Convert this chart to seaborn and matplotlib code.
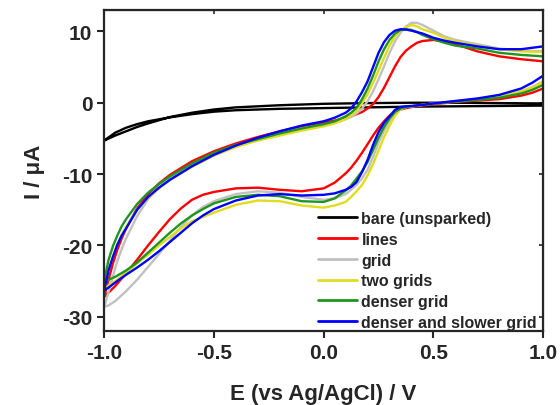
import numpy as np
import pandas as pd
import matplotlib
matplotlib.use("Agg")
import matplotlib.pyplot as plt
import seaborn as sns

# ---------------- data ----------------
series_names = ["bare (unsparked)", "lines", "grid", "two grids",
                "denser grid", "denser and slower grid"]
series_colors = ["#000000", "#ff0000", "#c0c0c0", "#e0dc20", "#1f951f", "#0000ff"]

# black (bare) curve
bare_x = [-1.0, -0.95, -0.9, -0.85, -0.8, -0.7, -0.6, -0.5, -0.4, -0.2, 0.0, 0.2, 0.4, 0.6, 0.8, 1.0]
bare_fwd = [-5.3, -4.6, -4.0, -3.4, -2.9, -2.0, -1.4, -0.95, -0.65, -0.35, -0.15, -0.05, 0.0, 0.0, -0.05, -0.1]
bare_rev = [-5.3, -4.2, -3.5, -3.0, -2.6, -2.05, -1.6, -1.25, -1.05, -0.85, -0.75, -0.65, -0.55, -0.5, -0.45, -0.4]

# forward (anodic) scan potentials, -1.0 -> 1.0 V
fwd_x = [-1.0, -0.99, -0.98, -0.96, -0.94, -0.92, -0.9, -0.85, -0.8, -0.75, -0.7, -0.6, -0.5, -0.4,
         -0.3, -0.2, -0.1, 0.0, 0.05, 0.1, 0.125, 0.15, 0.175, 0.2, 0.225, 0.25, 0.275, 0.3, 0.325,
         0.35, 0.375, 0.4, 0.425, 0.45, 0.5, 0.55, 0.6, 0.7, 0.8, 0.9, 1.0]
lines_fwd = [-27.2, -26.0, -24.8, -22.5, -20.6, -19.0, -17.6, -14.8, -12.8, -11.3, -10.1, -8.2, -6.8, -5.7,
             -4.8, -4.0, -3.3, -2.8, -2.5, -2.1, -1.9, -1.6, -1.3, -0.8, -0.2, 0.8, 2.1, 3.6, 5.1,
             6.4, 7.3, 7.9, 8.4, 8.65, 8.8, 8.6, 8.2, 7.2, 6.5, 6.1, 5.8]
grid_fwd = [-28.6, -27.6, -26.5, -24.3, -22.2, -20.5, -19.0, -15.9, -13.5, -11.9, -10.6, -8.8, -7.2, -6.0,
            -5.1, -4.3, -3.6, -3.1, -2.8, -2.3, -2.0, -1.5, -0.8, 0.2, 1.6, 3.3, 5.1, 7.0, 8.6,
            9.8, 10.7, 11.2, 11.2, 10.9, 10.1, 9.3, 8.8, 8.2, 7.6, 7.3, 7.2]
two_fwd = [-26.0, -24.7, -23.4, -21.5, -19.8, -18.5, -17.4, -15.0, -13.3, -12.0, -10.8, -9.0, -7.4, -6.2,
           -5.3, -4.6, -3.9, -3.3, -2.9, -2.3, -1.8, -1.1, -0.1, 1.2, 2.8, 4.5, 6.3, 8.0, 9.3,
           10.1, 10.6, 10.9, 10.7, 10.3, 9.8, 9.1, 8.6, 8.0, 7.5, 7.2, 7.1]
denser_fwd = [-25.0, -23.5, -22.0, -20.1, -18.6, -17.3, -16.3, -14.2, -12.6, -11.4, -10.3, -8.5, -7.0, -5.9,
              -5.1, -4.3, -3.6, -3.0, -2.6, -1.9, -1.4, -0.7, 0.5, 2.0, 3.8, 5.8, 7.5, 8.8, 9.7,
              10.2, 10.3, 10.2, 9.9, 9.5, 8.9, 8.4, 8.0, 7.6, 7.0, 6.7, 6.5]
slower_fwd = [-26.3, -24.9, -23.5, -21.6, -19.9, -18.6, -17.6, -15.0, -13.2, -11.9, -10.8, -8.9, -7.3, -6.0,
              -4.9, -4.0, -3.2, -2.6, -2.1, -1.4, -0.8, 0.2, 1.5, 3.0, 5.0, 7.0, 8.5, 9.5, 10.1,
              10.3, 10.25, 10.1, 9.9, 9.7, 9.1, 8.7, 8.4, 7.9, 7.5, 7.5, 7.9]

# reverse (cathodic) scan potentials, 1.0 -> -1.0 V
rev_x = [1.0, 0.95, 0.9, 0.8, 0.7, 0.6, 0.5, 0.45, 0.4, 0.375, 0.35, 0.325, 0.3, 0.275, 0.25, 0.225,
         0.2, 0.175, 0.15, 0.125, 0.1, 0.05, 0.0, -0.1, -0.2, -0.3, -0.4, -0.5, -0.55, -0.6, -0.65,
         -0.7, -0.75, -0.8, -0.85, -0.9, -0.95, -0.98, -1.0]
lines_rev = [2.0, 1.4, 1.0, 0.5, 0.3, 0.1, -0.2, -0.4, -0.6, -0.75, -0.95, -1.3, -1.8, -2.6, -3.5, -4.6,
             -5.8, -7.0, -8.1, -9.1, -9.9, -11.2, -12.0, -12.4, -12.2, -11.9, -12.0, -12.5, -12.9, -13.6, -14.8,
             -16.3, -18.1, -20.0, -22.0, -23.9, -25.7, -26.6, -27.2]
grid_rev = [3.0, 2.2, 1.6, 0.9, 0.5, 0.2, -0.1, -0.3, -0.5, -0.6, -0.9, -1.5, -2.6, -3.9, -5.6, -7.6,
            -9.4, -10.6, -11.5, -12.2, -12.8, -13.4, -13.6, -13.2, -12.6, -12.4, -12.8, -13.8, -14.6, -15.8, -17.4,
            -19.3, -21.2, -23.0, -24.8, -26.4, -27.8, -28.4, -28.6]
two_rev = [2.9, 2.1, 1.6, 0.9, 0.5, 0.2, -0.1, -0.3, -0.5, -0.6, -0.9, -1.8, -3.2, -4.8, -6.7, -8.6,
           -10.2, -11.5, -12.4, -13.2, -13.9, -14.4, -14.7, -14.4, -13.8, -13.7, -14.3, -15.4, -16.0, -16.6, -17.6,
           -18.8, -20.0, -21.3, -22.5, -23.8, -25.0, -25.6, -26.0]
denser_rev = [2.5, 1.8, 1.3, 0.7, 0.4, 0.15, -0.1, -0.3, -0.5, -0.6, -0.8, -1.3, -2.2, -3.4, -4.9, -6.6,
              -8.3, -9.6, -10.6, -11.6, -12.3, -13.4, -13.9, -13.8, -13.1, -12.9, -13.2, -14.1, -14.9, -15.8, -16.9,
              -18.2, -19.6, -21.0, -22.4, -23.5, -24.4, -24.8, -25.0]
slower_rev = [3.8, 2.8, 2.0, 1.1, 0.6, 0.25, -0.1, -0.3, -0.45, -0.5, -0.6, -1.0, -1.9, -2.8, -4.1, -5.9,
              -8.0, -9.7, -11.1, -11.8, -12.2, -12.7, -12.9, -13.0, -12.8, -13.0, -13.7, -14.9, -15.8, -16.9, -18.2,
              -19.5, -20.8, -22.0, -23.1, -24.1, -25.2, -25.9, -26.3]

x_ticks = [-1.0, -0.5, 0.0, 0.5, 1.0]
y_ticks = [-30, -20, -10, 0, 10]

# ---------------- build long table ----------------
loops = [
    (bare_x, bare_fwd, bare_x[::-1], bare_rev[::-1]),
    (fwd_x, lines_fwd, rev_x, lines_rev),
    (fwd_x, grid_fwd, rev_x, grid_rev),
    (fwd_x, two_fwd, rev_x, two_rev),
    (fwd_x, denser_fwd, rev_x, denser_rev),
    (fwd_x, slower_fwd, rev_x, slower_rev),
]
frames = []
for name, (fx, fy, rx, ry) in zip(series_names, loops):
    e = list(fx) + list(rx)
    i = list(fy) + list(ry)
    frames.append(pd.DataFrame({"E": e, "I": i, "series": name, "order": np.arange(len(e))}))
df = pd.concat(frames, ignore_index=True)

# ---------------- plot ----------------
sns.set_style("ticks")
plt.rcParams["font.family"] = ["Liberation Sans", "DejaVu Sans"]
plt.rcParams["font.weight"] = "bold"
plt.rcParams["axes.labelweight"] = "bold"

fig = plt.figure(figsize=(5.6, 4.06), dpi=100)
ax = fig.add_axes([0.186, 0.182, 0.784, 0.791])

sns.lineplot(data=df, x="E", y="I", hue="series", hue_order=series_names,
             palette=series_colors, sort=False, estimator=None, units="series",
             linewidth=1.7, ax=ax, legend=True)
for ln in ax.get_lines():
    ln.set_solid_joinstyle("round")
    ln.set_solid_capstyle("round")

ax.set_xlim(-1.0, 1.0)
ax.set_ylim(-32, 13)
ax.set_xticks(x_ticks)
ax.set_xticklabels([f"{v:.1f}" for v in x_ticks])
ax.set_yticks(y_ticks)
ax.set_yticklabels([str(v) for v in y_ticks])
ax.tick_params(axis="both", direction="out", length=5, width=1.5, labelsize=15, pad=3.5)
for lab in ax.get_xticklabels() + ax.get_yticklabels():
    lab.set_fontweight("bold")

for sp in ax.spines.values():
    sp.set_linewidth(1.6)
    sp.set_visible(True)

secx = ax.secondary_xaxis("top")
secx.set_xticks(x_ticks)
secx.tick_params(direction="in", length=3, width=1.2, labeltop=False)
secy = ax.secondary_yaxis("right")
secy.set_yticks(y_ticks)
secy.tick_params(direction="in", length=3, width=1.2, labelright=False)

ax.set_xlabel("E (vs Ag/AgCl) / V", fontsize=16, fontweight="bold", labelpad=15)
ax.set_ylabel("I / \u03bcA", fontsize=16, fontweight="bold", labelpad=12)

leg = ax.get_legend()
handles = leg.legend_handles
labels = [t.get_text() for t in leg.get_texts()]
leg.remove()
newleg = ax.legend(handles, labels, loc="lower right", bbox_to_anchor=(0.986, 0.004),
                   frameon=False, prop={"weight": "bold", "size": 11.5},
                   handlelength=2.4, handletextpad=0.3, labelspacing=0.36,
                   borderaxespad=0.0, borderpad=0.0)
for h in newleg.legend_handles:
    h.set_linewidth(2)

fig.savefig("out.png", dpi=100)
